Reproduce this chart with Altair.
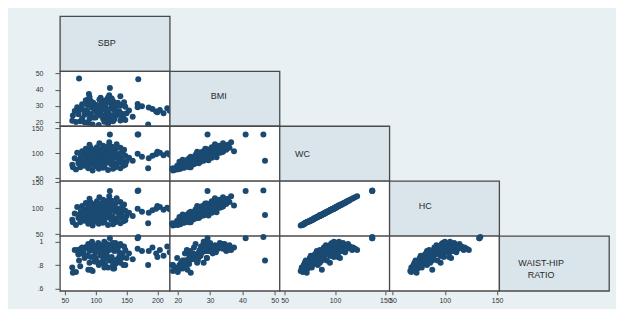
import altair as alt
import pandas as pd

sbp = [95, 120, 68, 105, 140, 88, 112, 75, 130, 98, 82, 145, 108, 62, 125, 92, 115, 135, 78, 102,
       118, 128, 86, 150, 96, 110, 72, 138, 122, 100, 84, 116, 142, 106, 90, 132, 76, 112, 126, 98,
       148, 118, 104, 80, 136, 94, 120, 110, 70, 128, 100, 144, 88, 114, 124, 96, 108, 132, 84, 118,
       140, 102, 126, 112, 90, 134, 106, 122, 108, 92, 100, 132, 90, 72, 126, 104, 66, 96, 138, 86,
       130, 116, 78, 146, 102, 92, 120, 114, 100, 142, 82, 124, 140, 112, 128, 148, 154, 160, 168, 175,
       186, 192, 198, 204, 210, 216, 220, 200, 185, 123, 169, 73, 168, 89, 63]
bmi = [18.5, 19.0, 20.0, 18.2, 21.0, 19.5, 22.0, 20.5, 21.5, 23.0, 19.8, 22.5, 24.0, 20.8, 23.5, 25.0, 21.8, 24.5, 22.2, 26.0,
       23.8, 20.5, 27.0, 25.5, 22.8, 28.0, 24.8, 26.5, 21.5, 27.5, 25.0, 29.0, 23.5, 27.8, 30.5, 26.2, 28.5, 24.0, 31.0, 27.0,
       29.5, 25.5, 30.0, 27.5, 32.0, 28.8, 25.8, 31.5, 29.2, 33.0, 27.2, 30.8, 34.0, 28.0, 32.5, 30.2, 35.0, 29.0, 33.5, 31.8,
       36.0, 30.5, 34.5, 32.8, 35.5, 31.5, 34.0, 36.5, 26.0, 23.0, 29.0, 23.5, 22.0, 26.5, 24.2, 29.5, 26.8, 32.0, 26.5, 30.5,
       27.5, 33.5, 31.0, 32.2, 28.5, 33.0, 35.2, 20.2, 22.8, 25.2, 24.5, 28.2, 30.0, 28.8, 20.8, 21.2, 27.2, 23.2, 31.2, 29.8,
       29.0, 28.0, 26.5, 27.5, 25.5, 28.5, 27.0, 26.0, 18.5, 41.0, 46.5, 47.0, 29.2, 37.4, 24.0]
wc = [66, 67, 68, 69, 70, 70, 71, 72, 73, 74, 75, 75, 76, 77, 78, 78, 79, 80, 81, 81,
      82, 83, 83, 84, 85, 85, 86, 87, 87, 88, 89, 89, 90, 91, 91, 92, 93, 93, 94, 95,
      95, 96, 97, 97, 98, 99, 99, 100, 101, 101, 102, 103, 103, 104, 105, 106, 107, 108, 109, 110,
      111, 112, 113, 115, 117, 118, 120, 122, 95, 87, 105, 72, 76, 80, 84, 86, 90, 92, 94, 98,
      100, 102, 104, 107, 109, 111, 114, 74, 79, 82, 88, 96, 100, 106, 69, 77, 91, 85, 99, 93,
      90, 95, 98, 101, 96, 100, 97, 103, 70, 137, 137, 85, 137, 104, 72]
hc = [67, 68, 68, 70, 71, 70, 72, 73, 74, 74, 76, 75, 77, 78, 78, 79, 80, 80, 82, 81,
      83, 83, 84, 85, 85, 86, 87, 87, 88, 89, 90, 89, 91, 92, 91, 93, 94, 93, 95, 96,
      95, 97, 98, 97, 99, 100, 99, 101, 102, 101, 103, 104, 103, 105, 106, 107, 108, 109, 110, 111,
      112, 113, 114, 116, 118, 119, 121, 123, 96, 88, 106, 73, 76, 81, 84, 86, 90, 92, 94, 98,
      100, 102, 104, 107, 109, 111, 114, 75, 79, 82, 88, 96, 100, 106, 69, 77, 91, 85, 99, 93,
      91, 96, 99, 102, 97, 101, 98, 104, 71, 133, 134, 87, 133, 105, 73]
whr = [0.75, 0.78, 0.74, 0.80, 0.82, 0.76, 0.84, 0.79, 0.77, 0.83, 0.86, 0.80, 0.88, 0.78, 0.84, 0.87, 0.81, 0.85, 0.90, 0.83,
       0.92, 0.80, 0.88, 0.86, 0.93, 0.82, 0.90, 0.87, 0.84, 0.91, 0.95, 0.86, 0.89, 0.97, 0.92, 0.84, 0.94, 0.90, 0.96, 0.88,
       0.93, 0.98, 0.99, 0.91, 0.95, 1.00, 0.87, 0.97, 0.93, 0.99, 0.96, 0.90, 0.98, 1.00, 0.94, 0.97, 0.92, 0.99, 0.95, 0.91,
       0.97, 0.94, 0.98, 0.96, 0.93, 0.95, 0.94, 0.93, 0.82, 0.76, 0.86, 0.81, 0.82, 0.89, 0.87, 0.92, 0.93, 0.95, 0.91, 0.96,
       0.92, 0.97, 0.95, 0.96, 0.93, 0.96, 0.95, 0.78, 0.83, 0.86, 0.88, 0.94, 0.98, 0.92, 0.77, 0.80, 0.90, 0.85, 0.94, 0.92,
       0.92, 0.95, 0.90, 0.93, 0.88, 0.96, 0.91, 0.87, 0.80, 1.03, 1.04, 0.84, 1.03, 0.95, 0.735]

variables = ["SBP", "BMI", "WC", "HC", "WHR"]
diag_labels = ["SBP", "BMI", "WC", "HC", "WAIST-HIP\nRATIO"]
domains = {"SBP": [42, 220], "BMI": [17.5, 51.5], "WC": [45, 154], "HC": [47, 152], "WHR": [0.58, 1.05]}
ticks = {"SBP": [50, 100, 150, 200], "BMI": [20, 30, 40, 50], "WC": [50, 100, 150],
         "HC": [50, 100, 150], "WHR": [0.6, 0.8, 1.0]}

df = pd.DataFrame({"SBP": sbp, "BMI": bmi, "WC": wc, "HC": hc, "WHR": whr})

W, H = 110, 55
POINT = "#1a4a72"
DIAG_FILL = "#d9e5eb"
STROKE = "#4a4a4a"
BG = "#e8f0f3"
label_pos = {"SBP": (47, 27), "BMI": (49, 25), "WC": (23, 28), "HC": (36, 25), "WHR": (42, 27)}

common_axis = dict(title=None, grid=False, domain=False, tickColor="#555", labelColor="#333",
                   labelFontSize=7, labelFont="Liberation Sans", labelOverlap=False,
                   labelBound=False, labelFlush=False)


def label_expr(v):
    if v == "WHR":
        return "datum.value < 1 ? substring(format(datum.value, '.1f'), 1) : '1'"
    return "datum.label"


def scatter(xv, yv, show_x, show_y):
    xaxis = alt.Axis(values=ticks[xv], tickSize=4, labelPadding=2, labelExpr=label_expr(xv),
                     **common_axis) if show_x else None
    yaxis = alt.Axis(values=ticks[yv], tickSize=5, labelPadding=12, labelAngle=0,
                     labelExpr=label_expr(yv), **common_axis) if show_y else None
    return alt.Chart(df).mark_circle(size=36, opacity=1, color=POINT).encode(
        x=alt.X(f"{xv}:Q", scale=alt.Scale(domain=domains[xv], nice=False, zero=False), axis=xaxis),
        y=alt.Y(f"{yv}:Q", scale=alt.Scale(domain=domains[yv], nice=False, zero=False), axis=yaxis),
    ).properties(width=W, height=H, view=alt.ViewBackground(fill="white", stroke=STROKE, strokeWidth=1.3))


def diag(i):
    v = variables[i]
    px, py = label_pos[v]
    return alt.Chart(pd.DataFrame({"t": [diag_labels[i]]})).mark_text(
        fontSize=9, color="#2a2a2a", font="Liberation Sans", lineBreak="\n", lineHeight=12,
        align="center", baseline="middle"
    ).encode(text="t:N", x=alt.value(px), y=alt.value(py)).properties(
        width=W, height=H, view=alt.ViewBackground(fill=DIAG_FILL, stroke=STROKE, strokeWidth=1.3))


def empty():
    return alt.Chart(pd.DataFrame({"v": [0]})).mark_point(opacity=0).encode(
        x=alt.value(0), y=alt.value(0)
    ).properties(width=W, height=H, view=alt.ViewBackground(stroke="transparent"))


cells = []
n = len(variables)
for r in range(n):
    for c in range(n):
        if c == r:
            cells.append(diag(r))
        elif c < r:
            cells.append(scatter(variables[c], variables[r], show_x=(r == n - 1), show_y=(c == 0)))
        else:
            cells.append(empty())

chart = alt.concat(*cells, columns=5, spacing=0, bounds="flush").properties(
    padding={"left": 22, "top": 4, "right": 6, "bottom": 4}
).configure(background=BG)

chart.save("out.html", embed_options={"renderer": "svg", "actions": False})
